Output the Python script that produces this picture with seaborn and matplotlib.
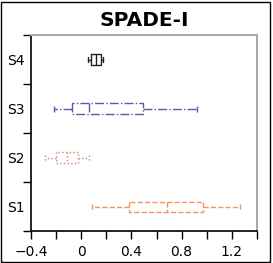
import numpy as np
import pandas as pd
import seaborn as sns
import matplotlib.pyplot as plt
from matplotlib.patches import Rectangle

# min, q1, median, q3, max per series
labels = ["S4", "S3", "S2", "S1"]
s4 = [0.056, 0.08, 0.12, 0.16, 0.176]
s3 = [-0.216, -0.072, 0.064, 0.49, 0.92]
s2 = [-0.288, -0.20, -0.112, -0.024, 0.064]
s1 = [0.088, 0.384, 0.68, 0.97, 1.27]
series = [s4, s3, s2, s1]
colors = ["#222222", "#5a58a8", "#d08a72", "#f0965a"]
styles = ["-", "-.", ":", "--"]

xticks = [-0.4, 0, 0.4, 0.8, 1.2]
xtick_labels = ["\u22120.4", "0", "0.4", "0.8", "1.2"]

sns.set_style("ticks")
plt.rcParams["text.color"] = "black"
plt.rcParams["xtick.color"] = "black"
plt.rcParams["ytick.color"] = "black"

fig, ax = plt.subplots(figsize=(2.73, 2.63), dpi=100)
fig.subplots_adjust(left=0.115, right=0.94, top=0.866, bottom=0.12)

for lab, vals, col, ls in zip(labels, series, colors, styles):
    df = pd.DataFrame({"value": vals, "group": [lab] * len(vals)})
    props = dict(linestyle=ls, linewidth=1.0)
    sns.boxplot(data=df, x="value", y="group", order=labels, ax=ax,
                color=col, fill=False, whis=(0, 100), width=0.22,
                boxprops=props, whiskerprops=props, capprops=props,
                medianprops=props, linewidth=1.0)

ax.set_xlim(-0.4, 1.4)
ax.set_ylim(3.5, -0.5)
ax.set_xticks(xticks)
ax.set_xticklabels(xtick_labels, fontsize=10)
ax.set_xticks(np.arange(-0.4, 1.41, 0.2), minor=True)
ax.set_yticks(range(len(labels)))
ax.set_yticklabels(labels, fontsize=10)
ax.set_yticks(np.arange(-0.5, 3.6, 1.0), minor=True)
ax.tick_params(axis="both", which="both", bottom=True, left=True,
               top=False, right=False, direction="out")
ax.tick_params(axis="y", which="major", length=0, pad=5)
ax.tick_params(axis="both", which="minor", length=6, width=1, color="black")
ax.tick_params(axis="x", which="major", length=6, width=1, color="black")
ax.set_xlabel("")
ax.set_ylabel("")
ax.set_title("SPADE-I", fontsize=14.5, fontweight="bold", color="black", pad=7)

for side in ["left", "bottom"]:
    ax.spines[side].set_color("black")
    ax.spines[side].set_linewidth(1.2)
for side in ["top", "right"]:
    ax.spines[side].set_color("#aaaaaa")
    ax.spines[side].set_linewidth(1.5)

fig.patches.append(Rectangle((0.004, 0.004), 0.985, 0.99, transform=fig.transFigure,
                             fill=False, edgecolor="black", linewidth=1.0))

fig.savefig("out.png", dpi=100)
